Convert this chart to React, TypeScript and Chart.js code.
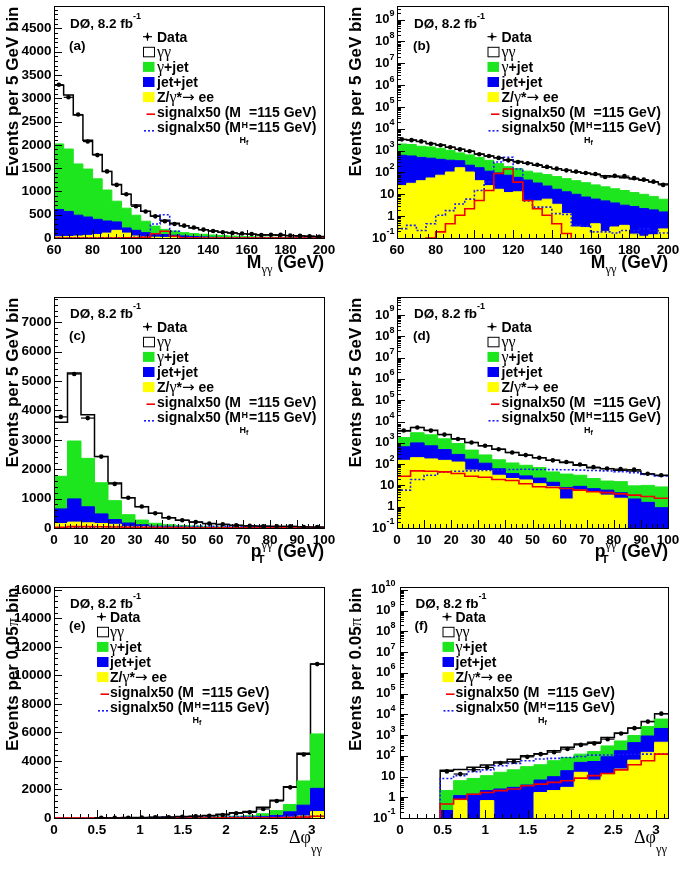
import React, { useEffect, useRef } from 'react';
import { Chart, registerables } from 'chart.js';

Chart.register(...registerables);

const SANS = '"Liberation Sans", Arial, Helvetica, sans-serif';
const SERIF = '"Liberation Serif", "Times New Roman", serif';
const B = (s: number) => `bold ${s}px ${SANS}`;
const G = (s: number) => `${s}px ${SERIF}`;

const COLOR_GG = '#ffffff';
const COLOR_GJ = '#1ee61e';
const COLOR_JJ = '#0000f5';
const COLOR_Z = '#ffff00';
const COLOR_SIG = '#f00000';
const COLOR_SIGF = '#1a1aff';

// ---------- M_gamma-gamma (5 GeV bins) ----------
const massEdges = [60, 65, 70, 75, 80, 85, 90, 95, 100, 105, 110, 115, 120, 125, 130, 135, 140, 145, 150, 155, 160, 165, 170, 175, 180, 185, 190, 195, 200];
const massData = [3290, 3020, 2650, 2070, 1780, 1430, 1140, 940, 680, 570, 465, 360, 300, 265, 225, 180, 150, 125, 110, 95, 85, 62, 70, 68, 55, 47, 38, 27];
const massGG = [1260, 1160, 1050, 620, 520, 400, 360, 300, 220, 215, 215, 195, 165, 150, 120, 95, 85, 73, 63, 58, 53, 48, 45, 42, 38, 34, 29, 24];
const massGJ = [1410, 1340, 1100, 1030, 870, 665, 445, 425, 325, 245, 160, 110, 90, 70, 62, 56, 48, 39, 32, 26.5, 21, 17, 14, 11.8, 9.3, 7.8, 6.1, 4.4];
const massJJ = [585, 538, 448, 394, 325, 260, 180, 110, 123, 90, 78, 63, 47, 40, 28, 18, 13.5, 11.7, 9.7, 7.2, 5.6, 4.8, 3.7, 2.8, 2.6, 2.1, 1.8, 1.3];
const massZ = [25, 32, 42, 56, 75, 105, 165, 105, 42, 25, 17, 12, 13, 5, 5, 6, 3.5, 1.3, 0.32, 0.3, 0.45, 0.2, 0.32, 0.38, 0.15, 0.12, 0.14, 0.26];
const massSig = [0, 0, 0, 0.1, 0.19, 0.45, 1.1, 2.2, 5.2, 15, 90, 145, 36, 5.2, 2.2, 1.1, 0.45, 0.16, 0, 0, 0, 0, 0, 0, 0, 0, 0, 0];
const massSigF = [0.27, 0.38, 0.22, 0.45, 1.1, 1.8, 3.6, 6, 15, 36, 300, 500, 145, 5, 2.6, 2.6, 1.3, 1.2, 0.38, 0.35, 0.19, 0.19, 0.17, 0.22, 0.22, 0.27, 0.22, 0.17];

// ---------- pT gamma-gamma (5 GeV bins) ----------
const ptEdges = [0, 5, 10, 15, 20, 25, 30, 35, 40, 45, 50, 55, 60, 65, 70, 75, 80, 85, 90, 95, 100];
const ptData = [3780, 5240, 3740, 2430, 1500, 1030, 730, 500, 350, 265, 200, 150, 125, 95, 72, 62, 58, 55, 35, 30];
const ptGG = [1840, 2310, 1480, 890, 600, 575, 450, 340, 237, 172, 131, 107, 86, 58, 47, 44, 37, 38.5, 24, 20.5];
const ptGJ = [1110, 1970, 1650, 1060, 645, 285, 160, 100, 77, 60, 47, 29, 26, 21, 14, 10, 10.5, 7.2, 8.4, 7.6];
const ptJJ = [500, 790, 545, 330, 160, 118, 60, 30, 15, 10, 10, 5.4, 5.7, 3, 2, 2.5, 2, 2.3, 1.6, 0.9];
const ptZ = [150, 200, 175, 150, 125, 52, 50, 30, 21, 18, 12, 8.6, 2.3, 6, 5, 3.5, 2.5, 0, 0, 0];
const ptSig = [27, 48, 46, 43, 36, 27, 24, 19, 17, 12, 8.6, 8, 7.2, 6, 5, 4.6, 4, 3.5, 3, 2.5];
const ptSigF = [6, 19, 30, 43, 46, 48, 50, 52, 56, 57, 56, 55, 54, 52, 50, 48, 44, 40, 33, 28];

// ---------- Delta phi (0.05 pi bins) ----------
const dphiEdges = [0, 0.1571, 0.3142, 0.4712, 0.6283, 0.7854, 0.9425, 1.0996, 1.2566, 1.4137, 1.5708, 1.7279, 1.885, 2.042, 2.1991, 2.3562, 2.5133, 2.6704, 2.8274, 2.9845, 3.1416];
const dphiData = [null, null, null, 17.7, 13.2, 21.3, 27.6, 44.6, 51.8, 89, 120, 150, 211, 336, 395, 635, 1190, 2150, 4460, 10800];
const dphiGG = [0, 0, 0, 17.9, 15.7, 19.9, 25, 34, 47, 70, 88, 117, 172, 250, 290, 460, 730, 1250, 1950, 4900];
const dphiGJ = [0, 0, 0, 1.87, 5.1, 6.7, 8.9, 13.5, 18, 26.1, 30.2, 48.2, 64, 72, 107, 210, 345, 520, 1700, 3820];
const dphiJJ = [0, 0, 0, 0.23, 0.51, 1.4, 1.41, 2.5, 3.0, 3.9, 5.1, 7.7, 16, 32, 46.3, 77, 152, 368, 754, 1630];
const dphiZ = [0, 0, 0, 0, 0.69, 0, 0.69, 0, 0, 0, 1.7, 2.1, 3, 16, 6.7, 13, 23, 62, 146, 450];
const dphiSig = [0, 0, 0, 0.47, 0.8, 1.4, 1.7, 2.1, 2.5, 3.6, 4.3, 5.2, 6.3, 8.4, 11, 14, 21, 37, 58, 120];
const dphiSigF = [0, 0, 0, 8, 11, 17, 21, 33, 43, 58, 70, 75, 83, 93, 108, 110, 115, 118, 120, 120];

// ---------- ticks ----------
const massTickValues = [60, 80, 100, 120, 140, 160, 180, 200];
const massTickLabels = ['60', '80', '100', '120', '140', '160', '180', '200'];
const ptTickValues = [0, 10, 20, 30, 40, 50, 60, 70, 80, 90, 100];
const ptTickLabels = ['0', '10', '20', '30', '40', '50', '60', '70', '80', '90', '100'];
const dphiTickValues = [0, 0.5, 1, 1.5, 2, 2.5, 3];
const dphiTickLabels = ['0', '0.5', '1', '1.5', '2', '2.5', '3'];
const massLinTickValues = [0, 500, 1000, 1500, 2000, 2500, 3000, 3500, 4000, 4500];
const massLinTickLabels = ['0', '500', '1000', '1500', '2000', '2500', '3000', '3500', '4000', '4500'];
const ptLinTickValues = [0, 1000, 2000, 3000, 4000, 5000, 6000, 7000];
const ptLinTickLabels = ['0', '1000', '2000', '3000', '4000', '5000', '6000', '7000'];
const dphiLinTickValues = [0, 2000, 4000, 6000, 8000, 10000, 12000, 14000, 16000];
const dphiLinTickLabels = ['0', '2000', '4000', '6000', '8000', '10000', '12000', '14000', '16000'];
const logTickValues9 = [0.1, 1, 10, 1e2, 1e3, 1e4, 1e5, 1e6, 1e7, 1e8, 1e9];
const logTickLabels9 = ['10^-1', '1', '10', '10^2', '10^3', '10^4', '10^5', '10^6', '10^7', '10^8', '10^9'];
const logTickValues10 = [0.1, 1, 10, 1e2, 1e3, 1e4, 1e5, 1e6, 1e7, 1e8, 1e9, 1e10];
const logTickLabels10 = ['10^-1', '1', '10', '10^2', '10^3', '10^4', '10^5', '10^6', '10^7', '10^8', '10^9', '10^10'];

type Seg = { t: string; f: string; dy?: number; dx?: number; adv?: number };

function segAdvance(ctx: CanvasRenderingContext2D, s: Seg) {
  ctx.font = s.f;
  return s.adv !== undefined ? s.adv : ctx.measureText(s.t).width;
}
function richWidth(ctx: CanvasRenderingContext2D, segs: Seg[]) {
  return segs.reduce((w, s) => w + segAdvance(ctx, s), 0);
}
function drawRich(ctx: CanvasRenderingContext2D, segs: Seg[], x: number, y: number) {
  let pen = x;
  for (const s of segs) {
    ctx.font = s.f;
    ctx.fillText(s.t, pen + (s.dx || 0), y + (s.dy || 0));
    pen += segAdvance(ctx, s);
  }
}

const massXTitle: Seg[] = [{ t: 'M', f: B(17.5) }, { t: 'γγ', f: G(12.5), dy: 4.5 }, { t: ' (GeV)', f: B(17.5) }];
const ptXTitle: Seg[] = [{ t: 'p', f: B(17.5) }, { t: 'T', f: B(11.5), dy: 5.5, dx: -4, adv: 0 }, { t: 'γγ', f: G(12.5), dy: -8 }, { t: ' (GeV)', f: B(17.5) }];
const dphiXTitle: Seg[] = [{ t: 'Δφ', f: G(18) }, { t: 'γγ', f: G(12.5), dy: 10 }];
const gevYTitle: Seg[] = [{ t: 'Events per 5 GeV bin', f: B(17) }];
const piYTitle: Seg[] = [{ t: 'Events per 0.05', f: B(17) }, { t: 'π', f: G(17) }, { t: ' bin', f: B(17) }];

interface Panel {
  key: string; left: number; top: number; w: number; h: number;
  area: { l: number; t: number; r: number; b: number };
  edges: number[]; data: (number | null)[];
  gg: number[]; gj: number[]; jj: number[]; z: number[]; sig: number[]; sigF: number[];
  xMin: number; xMax: number; xTicks: number[]; xTickLabels: string[]; xMinor: number;
  log: boolean; yMin: number; yMax: number; yTicks: number[]; yTickLabels: string[]; yMinor: number; yLabelRight: number;
  xTitle: Seg[]; xTitleRight: number; xTitleBase: number; yTitle: Seg[];
  tag: string; labelX: number; boxX: number; textX: number;
}

const massSet = { edges: massEdges, data: massData, gg: massGG, gj: massGJ, jj: massJJ, z: massZ, sig: massSig, sigF: massSigF, xMin: 60, xMax: 200, xTicks: massTickValues, xTickLabels: massTickLabels, xMinor: 4, xTitle: massXTitle, xTitleBase: 268.3, yTitle: gevYTitle };
const ptSet = { edges: ptEdges, data: ptData, gg: ptGG, gj: ptGJ, jj: ptJJ, z: ptZ, sig: ptSig, sigF: ptSigF, xMin: 0, xMax: 100, xTicks: ptTickValues, xTickLabels: ptTickLabels, xMinor: 2, xTitle: ptXTitle, xTitleBase: 267, yTitle: gevYTitle };
const dphiSet = { edges: dphiEdges, data: dphiData, gg: dphiGG, gj: dphiGJ, jj: dphiJJ, z: dphiZ, sig: dphiSig, sigF: dphiSigF, xMin: 0, xMax: 3.1416, xTicks: dphiTickValues, xTickLabels: dphiTickLabels, xMinor: 0.1, xTitle: dphiXTitle, xTitleBase: 263.3, yTitle: piYTitle };

const panels: Panel[] = [
  { key: 'a', left: 0, top: 0, w: 343, h: 290, area: { l: 54, t: 6, r: 324, b: 238 }, ...massSet,
    log: false, yMin: 0, yMax: 4980, yTicks: massLinTickValues, yTickLabels: massLinTickLabels, yMinor: 100, yLabelRight: 51.5,
    xTitleRight: 324, tag: '(a)', labelX: 70, boxX: 143, textX: 157 },
  { key: 'b', left: 343, top: 0, w: 344, h: 290, area: { l: 54, t: 6, r: 325, b: 238 }, ...massSet,
    log: true, yMin: 0.1, yMax: 4.2e9, yTicks: logTickValues9, yTickLabels: logTickLabels9, yMinor: 0, yLabelRight: 51.5,
    xTitleRight: 325, tag: '(b)', labelX: 71, boxX: 144.5, textX: 158.5 },
  { key: 'c', left: 0, top: 290, w: 343, h: 290, area: { l: 54, t: 7, r: 324, b: 238 }, ...ptSet,
    log: false, yMin: 0, yMax: 7860, yTicks: ptLinTickValues, yTickLabels: ptLinTickLabels, yMinor: 200, yLabelRight: 51.5,
    xTitleRight: 324, tag: '(c)', labelX: 70, boxX: 143, textX: 157 },
  { key: 'd', left: 343, top: 290, w: 344, h: 290, area: { l: 54, t: 7, r: 325, b: 238 }, ...ptSet,
    log: true, yMin: 0.1, yMax: 7e9, yTicks: logTickValues9, yTickLabels: logTickLabels9, yMinor: 0, yLabelRight: 51.5,
    xTitleRight: 325, tag: '(d)', labelX: 71, boxX: 144.5, textX: 158.5 },
  { key: 'e', left: 0, top: 580, w: 343, h: 293, area: { l: 54, t: 7, r: 324, b: 238 }, ...dphiSet,
    log: false, yMin: 0, yMax: 16210, yTicks: dphiLinTickValues, yTickLabels: dphiLinTickLabels, yMinor: 400, yLabelRight: 51.5,
    xTitleRight: 322, tag: '(e)', labelX: 70, boxX: 97, textX: 110 },
  { key: 'f', left: 343, top: 580, w: 344, h: 293, area: { l: 57, t: 7, r: 325, b: 238 }, ...dphiSet,
    log: true, yMin: 0.1, yMax: 1.38e10, yTicks: logTickValues10, yTickLabels: logTickLabels10, yMinor: 0, yLabelRight: 52.5,
    xTitleRight: 324, tag: '(f)', labelX: 72.5, boxX: 99.5, textX: 112.5 },
];

function makeDecor(p: Panel) {
  return {
    id: 'decor' + p.key,
    afterDatasetsDraw(chart: any) {
      const ctx: CanvasRenderingContext2D = chart.ctx;
      const xs = chart.scales.x, ys = chart.scales.y;
      const { l, t, r, b } = p.area;
      ctx.save();
      ctx.beginPath();
      ctx.rect(l, t, r - l, b - t);
      ctx.clip();
      ctx.strokeStyle = '#000';
      ctx.lineWidth = 1.2;
      p.data.forEach((v, i) => {
        if (v == null) return;
        const y = ys.getPixelForValue(v);
        ctx.beginPath();
        ctx.moveTo(xs.getPixelForValue(p.edges[i]), y);
        ctx.lineTo(xs.getPixelForValue(p.edges[i + 1]), y);
        ctx.stroke();
      });
      ctx.restore();
    },
    afterDraw(chart: any) {
      const ctx: CanvasRenderingContext2D = chart.ctx;
      const xs = chart.scales.x, ys = chart.scales.y;
      const { l, t, r, b } = p.area;
      ctx.save();
      ctx.strokeStyle = '#000';
      ctx.fillStyle = '#000';
      ctx.lineWidth = 1;
      ctx.strokeRect(l + 0.5, t + 0.5, r - l, b - t);
      const seg = (x1: number, y1: number, x2: number, y2: number) => {
        ctx.beginPath(); ctx.moveTo(x1, y1); ctx.lineTo(x2, y2); ctx.stroke();
      };
      const near = (a: number, arr: number[]) => arr.some((v) => Math.abs(v - a) < 1e-6);
      const px = (v: number) => Math.round(xs.getPixelForValue(v)) + 0.5;
      const py = (v: number) => Math.round(ys.getPixelForValue(v)) + 0.5;
      // x ticks
      for (const v of p.xTicks) seg(px(v), b, px(v), b - 8);
      {
        const k0 = Math.ceil(p.xMin / p.xMinor - 1e-9), k1 = Math.floor(p.xMax / p.xMinor + 1e-9);
        for (let k = k0; k <= k1; k++) {
          const v = k * p.xMinor;
          if (near(v, p.xTicks)) continue;
          seg(px(v), b, px(v), b - 4);
        }
      }
      // y ticks
      for (const v of p.yTicks) seg(l, py(v), l + 8, py(v));
      if (p.log) {
        for (const v of p.yTicks) {
          for (let k = 2; k <= 9; k++) {
            const m = v * k;
            if (m > p.yMax) break;
            seg(l, py(m), l + 4, py(m));
          }
        }
      } else {
        const k1 = Math.floor(p.yMax / p.yMinor + 1e-9);
        for (let k = 1; k <= k1; k++) {
          const v = k * p.yMinor;
          if (near(v, p.yTicks)) continue;
          seg(l, py(v), l + 4, py(v));
        }
      }
      // x tick labels
      ctx.font = B(13.5);
      ctx.textAlign = 'center';
      ctx.textBaseline = 'alphabetic';
      p.xTicks.forEach((v, i) => ctx.fillText(p.xTickLabels[i], xs.getPixelForValue(v), b + 15.5));
      // y tick labels
      p.yTicks.forEach((v, i) => {
        const y = ys.getPixelForValue(v);
        const lab = p.yTickLabels[i];
        ctx.textBaseline = 'middle';
        if (lab.includes('^')) {
          const [base, ex] = lab.split('^');
          ctx.font = B(9);
          const we = ctx.measureText(ex).width;
          ctx.font = B(13);
          const wb = ctx.measureText(base).width;
          ctx.textAlign = 'left';
          ctx.fillText(base, p.yLabelRight - we - wb, y);
          ctx.font = B(9);
          ctx.fillText(ex, p.yLabelRight - we, y - 6);
        } else {
          ctx.font = B(p.log ? 13 : 13.5);
          ctx.textAlign = 'right';
          ctx.fillText(lab, p.yLabelRight, y);
        }
      });
      ctx.textAlign = 'left';
      ctx.textBaseline = 'alphabetic';
      // x title
      const wx = richWidth(ctx, p.xTitle);
      drawRich(ctx, p.xTitle, p.xTitleRight - wx, p.xTitleBase);
      // y title
      ctx.save();
      ctx.translate(17.5, t + 0.5);
      ctx.rotate(-Math.PI / 2);
      const wy = richWidth(ctx, p.yTitle);
      drawRich(ctx, p.yTitle, -wy, 0);
      ctx.restore();
      // labels
      drawRich(ctx, [{ t: 'DØ, 8.2 fb', f: B(13.5) }, { t: '-1', f: B(9), dy: -9.5 }], p.labelX, 28.3);
      drawRich(ctx, [{ t: p.tag, f: B(13.5) }], p.labelX - 1, 49.5);
      // legend
      const cy = (i: number) => 36.7 + i * 15.1;
      const entries: Seg[][] = [
        [{ t: 'Data', f: B(14) }],
        [{ t: 'γγ', f: G(16) }],
        [{ t: 'γ', f: G(16) }, { t: '+jet', f: B(14) }],
        [{ t: 'jet+jet', f: B(14) }],
        [{ t: 'Z/', f: B(14) }, { t: 'γ', f: G(16) }, { t: '*', f: B(14) }, { t: '→', f: `15px "DejaVu Sans", sans-serif` }, { t: ' ee', f: B(14) }],
        [{ t: 'signalx50 (M', f: B(14) }, { t: 'H', f: B(9), dy: 10.5, dx: 0.5, adv: 8 }, { t: '=115 GeV)', f: B(14) }],
        [{ t: 'signalx50 (M', f: B(14) }, { t: 'H', f: B(9), dy: 10.5, dx: -1.5, adv: 0 }, { t: 'f', f: B(7), dy: 12.5, dx: 5, adv: 8 }, { t: '=115 GeV)', f: B(14) }],
      ];
      ctx.fillStyle = '#000';
      entries.forEach((segs, i) => drawRich(ctx, segs, p.textX, cy(i) + 5));
      // markers
      const cx = p.boxX + 4.5;
      ctx.lineWidth = 1.2;
      ctx.strokeStyle = '#000';
      seg(cx - 4.5, cy(0), cx + 4.5, cy(0));
      seg(cx, cy(0) - 4, cx, cy(0) + 4);
      ctx.beginPath();
      ctx.arc(cx, cy(0), 1.8, 0, Math.PI * 2);
      ctx.fill();
      const box = (i: number, color: string, stroke: boolean) => {
        ctx.fillStyle = color;
        ctx.fillRect(p.boxX, cy(i) - 5, 11.5, 10);
        if (stroke) {
          ctx.strokeStyle = '#000';
          ctx.lineWidth = 1;
          ctx.strokeRect(p.boxX + 0.5, cy(i) - 4.5, 11, 9.5);
        }
      };
      box(1, COLOR_GG, true);
      box(2, COLOR_GJ, false);
      box(3, COLOR_JJ, false);
      box(4, COLOR_Z, false);
      ctx.strokeStyle = COLOR_SIG;
      ctx.lineWidth = 1.6;
      seg(p.boxX + 3.5, cy(5) + 2, p.boxX + 12, cy(5) + 2);
      ctx.strokeStyle = COLOR_SIGF;
      ctx.setLineDash([2, 2]);
      seg(p.boxX + 1, cy(6) + 3.5, p.boxX + 12, cy(6) + 3.5);
      ctx.setLineDash([]);
      ctx.restore();
    },
  };
}

function buildConfig(p: Panel): any {
  const fix = (v: number) => (p.log && !(v > 0) ? 1e-4 : v);
  const step = (vals: number[]) => {
    const pts = vals.map((v, i) => ({ x: p.edges[i], y: fix(v) }));
    pts.push({ x: p.edges[p.edges.length - 1], y: fix(vals[vals.length - 1]) });
    return pts;
  };
  const c1 = p.z;
  const c2 = c1.map((v, i) => v + p.jj[i]);
  const c3 = c2.map((v, i) => v + p.gj[i]);
  const c4 = c3.map((v, i) => v + p.gg[i]);
  const dataPts = p.data.map((v, i) => ({ x: (p.edges[i] + p.edges[i + 1]) / 2, y: v }));
  const hist = (vals: number[], fillColor: string, lineColor: string, lw: number) => ({
    data: step(vals), stepped: 'before', fill: 'start', backgroundColor: fillColor, borderColor: lineColor,
    borderWidth: lw, pointRadius: 0, pointHoverRadius: 0,
  });
  return {
    type: 'line',
    data: {
      datasets: [
        { label: 'Data', data: dataPts, showLine: false, pointRadius: 2.3, pointHoverRadius: 2.3, pointStyle: 'circle',
          pointBackgroundColor: '#000', pointBorderColor: '#000', pointBorderWidth: 0, borderColor: '#000', backgroundColor: '#000' },
        { label: 'signalx50 (MH=115 GeV)', data: step(p.sig), stepped: 'before', fill: false, borderColor: COLOR_SIG, borderWidth: 1.6, pointRadius: 0 },
        { label: 'signalx50 (MHf=115 GeV)', data: step(p.sigF), stepped: 'before', fill: false, borderColor: COLOR_SIGF, borderWidth: 1.6, borderDash: [2, 2], pointRadius: 0 },
        { label: 'Z/γ*→ee', ...hist(c1, COLOR_Z, COLOR_Z, 1) },
        { label: 'jet+jet', ...hist(c2, COLOR_JJ, COLOR_JJ, 1) },
        { label: 'γ+jet', ...hist(c3, COLOR_GJ, COLOR_GJ, 1) },
        { label: 'γγ', ...hist(c4, COLOR_GG, '#000', 1.5) },
      ],
    },
    options: {
      responsive: false,
      animation: false,
      events: [],
      layout: { padding: { left: p.area.l, top: p.area.t, right: p.w - p.area.r, bottom: p.h - p.area.b } },
      plugins: { legend: { display: false }, tooltip: { enabled: false }, title: { display: false } },
      elements: { line: { tension: 0 } },
      scales: {
        x: { type: 'linear', min: p.xMin, max: p.xMax, display: false },
        y: { type: p.log ? 'logarithmic' : 'linear', min: p.yMin, max: p.yMax, display: false },
      },
    },
    plugins: [makeDecor(p)],
  };
}

function PanelChart({ p }: { p: Panel }) {
  const ref = useRef<HTMLCanvasElement>(null);
  useEffect(() => {
    const chart = new Chart(ref.current as HTMLCanvasElement, buildConfig(p));
    return () => chart.destroy();
  }, [p]);
  return (
    <canvas
      ref={ref}
      width={p.w}
      height={p.h}
      style={{ position: 'absolute', left: p.left, top: p.top, width: p.w, height: p.h, display: 'block' }}
    />
  );
}

export default function App() {
  return (
    <div style={{ position: 'absolute', left: 0, top: 0, width: 687, height: 873, background: '#fff' }}>
      {panels.map((p) => (
        <PanelChart key={p.key} p={p} />
      ))}
    </div>
  );
}
